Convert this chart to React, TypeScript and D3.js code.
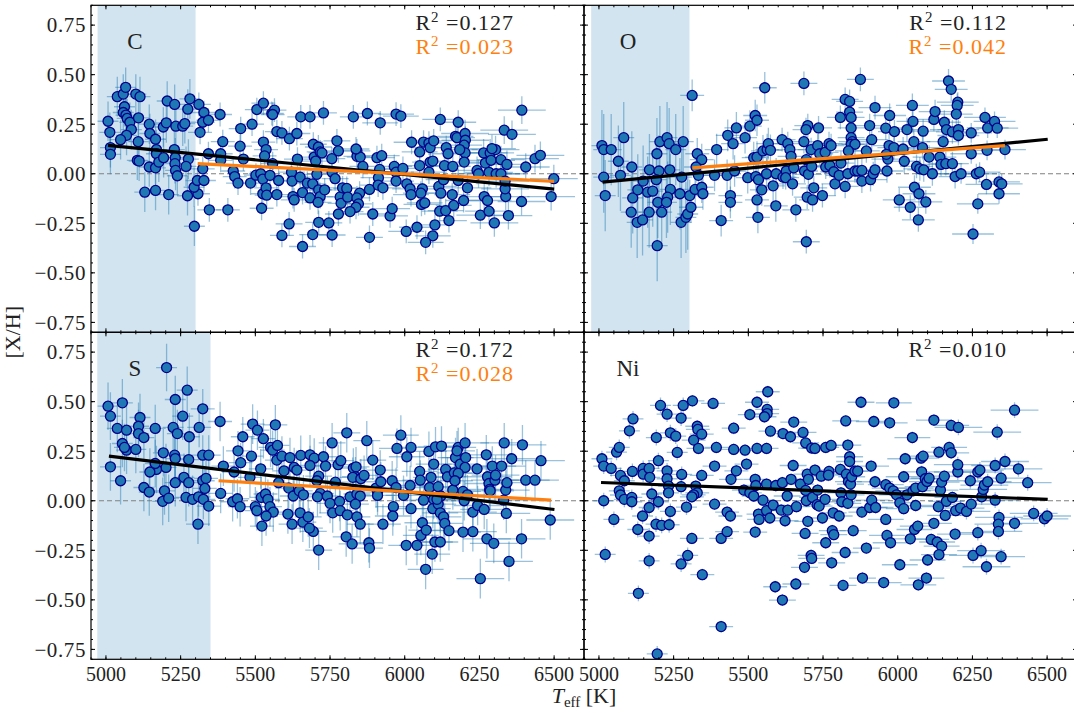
import React from "react";
import * as d3 from "d3";

// ---------------- DATA ----------------
// [Teff (K), [X/H]]
const carbonPoints: [number, number][] = [
  [5007,0.265],[5013,0.209],[5015,0.132],[5015,0.098],[5038,0.389],[5058,0.402],[5066,0.436],[5062,0.338],[5058,0.309],[5067,0.296],
  [5071,0.279],[5080,0.26],[5085,0.223],[5069,0.194],[5049,0.172],[5109,0.282],[5100,0.402],[5114,0.389],[5108,0.162],[5105,0.068],
  [5111,0.064],[5145,0.25],[5147,0.203],[5166,0.174],[5169,0.122],[5169,0.101],[5145,0.034],[5166,0.03],[5177,0.059],[5193,0.081],
  [5192,0.236],[5202,0.257],[5205,0.367],[5230,0.35],[5234,0.24],[5229,0.122],[5232,0.081],[5257,0.24],[5264,0.253],[5274,0.326],
  [5281,0.378],[5276,0.074],[5268,0.037],[5231,0.051],[5233,0.017],[5239,-0.01],[5130,-0.093],[5166,-0.084],[5210,-0.105],[5273,-0.111],
  [5308,-0.101],[5295,-0.068],[5296,-0.265],
  [5311,0.35],[5328,0.309],[5324,0.26],[5343,0.27],[5315,0.209],[5343,0.101],[5324,0.025],[5306,-0.034],[5328,-0.034],[5346,-0.182],
  [5382,0.299],[5391,0.162],[5384,0.101],[5384,0.068],[5408,-0.182],[5426,0.014],[5431,-0.014],[5442,-0.047],[5451,0.228],[5449,0.139],
  [5460,0.074],[5489,0.25],[5484,-0.047],[5505,0.324],[5527,0.356],[5502,-0.007],[5518,0],[5525,-0.027],[5527,0.16],[5536,0.122],
  [5531,0.09],[5525,-0.101],[5536,-0.071],[5538,-0.108],[5558,0.051],[5549,-0.008],[5521,-0.174],[5555,0.304],[5564,0.321],[5558,0.299],
  [5572,0.213],[5589,0.206],[5578,-0.034],[5572,-0.105],[5589,-0.311],[5614,0.177],[5639,0.203],[5652,0.287],[5683,0.287],[5641,0.074],
  [5621,0.008],[5623,-0.037],[5626,-0.115],[5630,-0.132],[5658,-0.367],[5613,-0.253],[5650,-0.017],[5658,-0.095],[5683,-0.122],[5674,-0.047],
  [5694,0.149],[5697,0.084],[5692,-0.051],[5711,0.135],[5717,0.11],[5702,0.064],[5728,0.307],[5723,0.105],[5706,-0.003],[5712,-0.081],
  [5717,-0.115],[5710,-0.144],[5712,-0.245],[5692,-0.307],[5732,-0.081],[5746,-0.248],[5757,-0.309],[5756,0.076],[5757,0.008],[5773,0.166],
  [5778,0.115],[5767,-0.025],[5784,-0.117],[5792,-0.071],[5778,-0.203],[5787,-0.149],[5806,-0.074],[5809,-0.118],[5828,0.287],[5840,0.115],
  [5840,0.088],[5851,0.084],[5837,0.125],[5860,0.037],[5849,-0.098],[5840,-0.122],[5845,-0.152],[5837,-0.169],[5817,-0.191],[5882,-0.079],
  [5875,0.304],[5882,-0.321],[5893,-0.203],[5907,0.081],[5918,0.257],[5923,0.091],[5916,0.022],[5912,-0.02],[5911,-0.057],[5927,-0.071],
  [5951,-0.213],[5958,-0.176],[5971,0.301],[5987,0.291],[5965,0.037],[5971,0.008],[5971,-0.037],[5994,0.027],[6007,-0.051],[6005,-0.291],
  [6023,0.159],[6018,-0.076],[6021,-0.105],[6050,0.11],[6050,0.041],[6063,0.16],[6081,0.155],[6085,0.132],[6081,0.008],[6059,-0.076],
  [6054,-0.098],[6056,-0.155],[6067,-0.147],[6041,-0.27],[6094,-0.313],[6070,-0.346],[6101,-0.258],[6097,0.166],[6085,0.059],[6094,0.064],
  [6119,0.274],[6139,0.132],[6145,0.101],[6133,0.041],[6161,0.037],[6114,-0.064],[6121,-0.098],[6130,-0.03],[6117,-0.189],[6137,-0.186],
  [6148,-0.236],[6159,-0.105],[6164,-0.16],[6179,0.26],[6170,0.189],[6175,0.182],[6202,0.203],[6203,0.169],[6199,0.144],[6202,0.105],
  [6184,0.122],[6199,0.059],[6197,-0.135],[6210,-0.071],[6179,-0.034],[6242,0.017],[6247,0],[6264,0.105],[6270,0.054],[6286,0.105],
  [6282,0.007],[6289,0.068],[6304,0.122],[6306,0],[6292,0.127],[6322,0.071],[6266,-0.115],[6277,-0.135],[6253,-0.209],[6282,-0.189],
  [6300,-0.248],[6347,-0.211],[6338,-0.115],[6336,-0.076],[6322,0],[6336,-0.037],[6342,0.047],[6333,0.22],[6359,0.199],[6392,0.321],
  [6405,0.034],[6391,-0.14],[6436,0.076],[6454,0.093],[6499,-0.025],[6490,-0.115],
];

const oxygenPoints: [number, number][] = [
  [5010,0.142],[5016,0.122],[5041,0.122],[5016,-0.017],[5021,-0.11],[5065,0.063],[5072,-0.008],[5083,0.182],[5110,0.034],[5113,-0.122],
  [5108,-0.194],[5128,-0.245],[5146,-0.233],[5130,-0.081],[5148,-0.037],[5163,-0.093],[5169,0.02],[5180,-0.088],[5168,-0.194],[5210,-0.194],
  [5197,-0.144],[5194,0.101],[5204,0.162],[5201,0.014],[5192,-0.03],[5195,-0.363],[5228,0.182],[5235,0.152],[5237,0.02],[5239,-0.079],
  [5230,-0.118],[5226,-0.144],[5257,0.122],[5282,0.162],[5277,-0.017],[5271,-0.101],[5275,-0.245],[5291,-0.22],[5297,-0.203],[5308,-0.169],
  [5304,-0.11],
  [5312,0.395],[5329,0.101],[5344,0.071],[5325,0.034],[5333,-0.008],[5322,-0.079],[5344,-0.068],[5348,-0.101],[5387,-0.008],[5394,0.122],
  [5409,-0.236],[5429,-0.008],[5431,0.194],[5449,0.152],[5460,0.231],[5440,-0.11],[5440,-0.144],[5454,0.014],[5489,0.182],[5498,-0.02],
  [5505,0.24],[5523,0.294],[5529,0.27],[5518,0.081],[5529,0.084],[5525,-0.014],[5529,-0.132],[5534,-0.03],[5532,-0.22],[5545,-0.081],
  [5555,0.434],[5549,0.115],[5563,0.122],[5567,0.152],[5574,0.118],[5561,0],[5583,-0.061],[5592,-0.162],[5593,0],[5613,0.172],
  [5616,-0.017],[5627,0.014],[5632,0.152],[5639,0.122],[5643,0.088],[5625,-0.02],[5648,-0.051],[5652,0.03],[5659,-0.182],[5686,0.456],
  [5699,0.243],[5693,0.223],[5686,0.162],[5694,0.071],[5688,0.014],[5701,-0.003],[5710,0.122],[5712,0.037],[5697,-0.118],[5719,-0.071],
  [5715,-0.132],[5694,-0.343],[5735,0.231],[5732,0.142],[5739,0.101],[5748,-0.11],[5757,0.108],[5770,0.152],[5777,0.142],[5759,0.034],
  [5773,0.041],[5786,0.01],[5790,-0.051],[5810,0.054],[5804,-0.008],[5824,-0.064],[5833,0],[5808,0.284],[5824,0.375],[5839,0.365],
  [5839,0.311],[5844,0.284],[5844,0.231],[5844,0.182],[5848,0.162],[5844,0.149],[5857,0.149],[5835,0.115],[5857,0.014],[5866,0.014],
  [5880,-0.037],[5880,0.017],[5875,0.476],[5895,0.115],[5906,0.243],[5913,0.172],[5909,-0.03],[5918,0],[5924,0.02],[5924,0.334],
  [5960,0.23],[5973,0.294],[5989,0.213],[5971,0.142],[5967,0.074],[5964,0.014],[5962,0.098],[5987,0.132],[6005,-0.132],[6018,0.125],
  [6022,0.063],[6031,0.223],[6049,0.345],[6051,0.264],[6054,0.162],[6042,-0.169],[6056,-0.068],[6063,0.037],[6074,0.025],[6069,-0.233],
  [6071,-0.101],[6085,0.215],[6083,0.132],[6087,0.02],[6094,-0.142],[6121,0.274],[6125,0.314],[6105,0.084],[6116,0],[6141,0.084],
  [6152,0.162],[6156,0.26],[6163,0.223],[6145,0.047],[6161,0.051],[6170,0.468],[6179,0.426],[6201,0.361],[6199,0.345],[6196,0.301],
  [6183,0.211],[6203,0.223],[6203,0.193],[6183,0.051],[6192,-0.014],[6212,0],[6246,0.206],[6246,0.101],[6263,0],[6274,0.008],
  [6268,-0.152],[6252,-0.304],[6292,0.284],[6301,0.231],[6297,-0.054],[6299,0.118],[6324,0.264],[6333,0.23],[6339,-0.041],[6348,-0.051],
  [6339,-0.101],[6359,0.122],
];

const sulfurPoints: [number, number][] = [
  [5007,0.477],[5015,0.427],[5055,0.494],[5038,0.365],[5069,0.356],[5055,0.289],[5069,0.255],[5062,0.269],[5100,0.259],[5015,0.171],
  [5049,0.101],[5114,0.42],[5109,0.376],[5109,0.339],[5127,0.319],[5165,0.365],[5203,0.672],[5232,0.511],[5272,0.558],[5257,0.427],
  [5225,0.37],[5239,0.339],[5279,0.323],[5312,0.37],[5324,0.464],[5192,0.242],[5230,0.23],[5232,0.213],[5277,0.208],[5201,0.168],
  [5169,0.158],[5165,0.188],[5147,0.145],[5127,0.067],[5145,0.044],[5196,0.05],[5190,-0.003],[5210,0.013],[5232,0.091],[5261,0.118],
  [5277,0.091],[5268,0.017],[5290,0.007],[5310,0.02],[5326,0.007],[5344,-0.027],[5324,0.101],[5331,0.062],[5335,0.113],[5324,0.23],
  [5344,0.23],[5308,-0.118],
  [5382,0.4],[5393,0.175],[5384,0.037],[5429,0.145],[5442,0.252],[5451,0.192],[5458,0.323],[5424,-0.005],[5440,0.01],[5449,-0.03],
  [5491,0.387],[5507,0.356],[5487,0.225],[5482,0.118],[5518,0.161],[5527,0.313],[5500,-0.03],[5505,-0.05],[5522,-0.128],[5520,0.017],
  [5534,0.034],[5542,0.007],[5549,-0.03],[5560,-0.057],[5536,-0.077],[5551,0.269],[5558,0.255],[5574,0.279],[5567,0.383],[5572,0.205],
  [5589,0.225],[5596,0.151],[5616,0.218],[5578,0.091],[5612,0.064],[5630,0.168],[5639,0.155],[5627,0.024],[5647,0.05],[5661,0.03],
  [5609,-0.067],[5623,-0.118],[5650,-0.061],[5659,-0.108],[5677,-0.081],[5694,-0.155],[5681,-0.138],[5712,-0.249],[5652,0.229],[5683,0.232],
  [5697,0.215],[5683,0.178],[5712,0.124],[5706,0.101],[5728,0.222],[5735,0.175],[5717,0.037],[5708,0.02],[5741,0.024],[5750,-0.013],
  [5757,0.292],[5759,-0.061],[5768,0.094],[5777,0.182],[5786,0.202],[5782,-0.003],[5784,-0.05],[5806,0.343],[5808,-0.071],[5804,-0.182],
  [5824,-0.218],[5817,0.02],[5828,0.165],[5837,0.171],[5835,0.121],[5840,0.034],[5851,0.024],[5835,-0.017],[5840,-0.081],[5851,-0.118],
  [5826,0.118],[5853,0.111],[5864,0.128],[5873,0.303],[5893,0.205],[5904,0.064],[5909,0.044],[5920,0.096],[5918,0.155],[5909,0.027],
  [5927,-0.118],[5880,-0.212],[5882,-0.239],[5958,0.101],[5962,-0.03],[5960,-0.077],[5971,0.067],[5974,0.264],[5987,0.331],[5996,0.027],
  [6007,0.222],[6021,0.269],[6018,0.077],[6021,-0.04],[6005,-0.225],[6041,-0.225],[6050,0.148],[6052,0.104],[6081,0.249],[6083,0.067],
  [6063,0.003],[6059,-0.111],[6054,-0.175],[6072,-0.148],[6097,0.185],[6103,0.272],[6123,0.276],[6088,0.118],[6097,0.007],[6094,-0.04],
  [6112,0.071],[6121,0.024],[6112,-0.017],[6119,-0.061],[6130,-0.081],[6134,-0.114],[6148,-0.151],[6137,0.158],[6143,0.121],[6108,0.007],
  [6101,-0.208],[6119,-0.208],[6092,-0.269],[6070,-0.346],[6161,0.054],[6166,0.141],[6170,0.218],[6179,0.269],[6175,0.252],[6186,0.185],
  [6202,0.292],[6204,0.218],[6202,0.168],[6179,0.138],[6168,0.101],[6195,0.047],[6199,0],[6210,0.03],[6228,-0.057],[6242,0.161],
  [6244,-0.024],[6228,-0.156],[6195,-0.158],[6253,-0.393],[6273,0.232],[6293,0.175],[6277,0.121],[6282,0.087],[6284,0.057],[6302,0.104],
  [6304,0.129],[6286,0.05],[6266,-0.044],[6275,-0.192],[6298,-0.215],[6324,0.175],[6338,0.054],[6342,0.091],[6340,-0.064],[6331,0.003],
  [6349,-0.306],[6358,0.212],[6333,0.292],[6394,0.282],[6405,0.104],[6436,0.104],[6456,0.202],[6391,-0.192],[6487,-0.097],
];

const nickelPoints: [number, number][] = [
  [5010,0.212],[5016,0.175],[5041,0.163],[5016,0],[5021,-0.271],[5050,-0.094],[5059,0.245],[5068,0.269],[5072,0.128],[5085,0.101],
  [5068,0.05],[5072,0.029],[5085,0.007],[5110,0.017],[5110,-0.005],[5112,0.148],[5102,0.353],[5114,0.413],[5130,-0.145],[5132,-0.467],
  [5146,-0.077],[5148,0.163],[5148,0.134],[5168,0.163],[5170,0.118],[5168,-0.034],[5168,-0.178],[5168,-0.303],[5177,0.034],[5192,0.319],
  [5199,0.202],[5199,-0.005],[5191,-0.118],[5210,-0.124],[5206,0.481],[5228,0.437],[5228,0.151],[5228,0.111],[5233,0.074],[5233,0.04],
  [5235,-0.121],[5239,-0.054],[5239,0.343],[5257,0.326],[5262,0.244],[5275,0.417],[5282,0.481],[5277,0.133],[5275,0.071],[5293,-0.032],
  [5275,-0.319],[5297,-0.276],[5311,-0.19],[5313,0.504],[5317,0.306],[5329,0.376],[5331,0.36],[5333,0.264],[5344,0.336],[5344,0.128],
  [5324,0.074],[5329,0.04],[5317,0.03],[5311,0.02],[5346,-0.373],[5382,0.491],[5393,0.269],[5387,0.175],[5387,-0.017],[5409,-0.635],
  [5409,-0.19],[5429,-0.057],[5429,-0.156],[5440,-0.077],[5442,0.108],[5451,0.259],[5451,0.366],[5460,0.151],[5489,0.255],[5494,0.185],
  [5485,0.054],[5505,0.04],[5518,0.024],[5505,0.435],[5529,0.497],[5529,0.264],[5523,0.108],[5525,0.077],[5534,-0.067],[5536,-0.094],
  [5523,-0.158],[5561,0.264],[5563,0.461],[5563,0.44],[5554,0.424],[5565,0.55],[5574,0.351],[5549,0.003],[5561,0.084],[5561,-0.05],
  [5572,-0.087],[5583,-0.022],[5592,0.077],[5590,-0.434],[5616,0.339],[5614,0.091],[5610,-0.047],[5623,-0.101],[5614,-0.501],[5632,-0.047],
  [5641,0.323],[5630,0.024],[5643,0.108],[5650,0.178],[5652,0.397],[5661,-0.03],[5659,-0.42],[5674,0.084],[5683,0.345],[5690,-0.165],
  [5692,0.292],[5688,-0.336],[5697,0.134],[5692,0.052],[5694,0],[5699,-0.104],[5701,0.108],[5710,-0.276],[5712,-0.291],[5712,0.266],
  [5715,0.017],[5723,0.155],[5723,0.264],[5730,-0.02],[5737,-0.027],[5732,0.054],[5744,0.124],[5748,-0.087],[5757,0.007],[5759,0.269],
  [5759,-0.212],[5777,0.279],[5770,0.148],[5768,0.129],[5784,-0.061],[5781,-0.151],[5786,-0.171],[5779,-0.313],[5804,-0.077],[5817,-0.427],
  [5824,-0.261],[5808,0.158],[5810,0.04],[5813,-0.005],[5826,0.403],[5833,0.281],[5839,0.222],[5839,0.198],[5828,0.134],[5835,0.097],
  [5833,-0.013],[5842,0.084],[5844,0.03],[5846,0.121],[5851,-0.151],[5857,0.15],[5866,0.15],[5877,0.497],[5880,-0.057],[5882,-0.39],
  [5895,-0.239],[5906,-0.034],[5911,0.175],[5913,0.003],[5920,0.4],[5924,0.096],[5926,-0.034],[5953,-0.413],[5960,0.081],[5960,-0.094],
  [5964,-0.175],[5973,0.064],[5973,0.393],[5976,-0.212],[5985,0.05],[5987,0.494],[5996,0.03],[6007,-0.01],[6007,-0.323],[6020,0.121],
  [6020,-0.04],[6025,0.212],[6031,0.03],[6042,-0.192],[6049,0.319],[6051,0.05],[6060,0.064],[6060,-0.024],[6056,-0.145],[6067,-0.128],
  [6069,-0.424],[6078,0.215],[6085,0.225],[6080,0.146],[6083,0.071],[6092,0.111],[6098,0.097],[6096,-0.39],[6100,-0.299],[6105,0.114],
  [6112,-0.195],[6121,-0.114],[6121,0.407],[6132,-0.208],[6138,0.245],[6143,0.054],[6136,-0.03],[6147,-0.229],[6138,-0.272],[6147,0.094],
  [6159,-0.074],[6163,-0.003],[6156,0.124],[6172,0.269],[6179,0.242],[6179,0.38],[6203,0.37],[6194,-0.05],[6192,-0.168],[6183,0.017],
  [6201,0.145],[6201,0.182],[6210,-0.037],[6230,-0.054],[6243,0.101],[6246,-0.017],[6252,-0.276],[6268,-0.161],[6268,0.145],[6275,0.155],
  [6279,-0.252],[6281,0.02],[6286,0.057],[6290,0.079],[6301,0.096],[6297,-0.333],[6326,0.178],[6326,0.003],[6333,0.346],[6339,-0.084],
  [6337,-0.118],[6337,-0.155],[6346,-0.282],[6346,0.114],[6359,0.198],[6391,0.457],[6391,-0.114],[6404,0.161],[6435,0.091],[6455,-0.064],
  [6491,-0.091],[6500,-0.077],[5195,-0.773],
];

// Error-bar sizes by Teff bin (bin edges below)
const errBinEdges = [5300, 5600, 5900, 6200];
const carbonTeffErr = [35, 40, 45, 60, 80];
const carbonAbundErr = [0.1, 0.06, 0.06, 0.06, 0.07];
const oxygenTeffErr = [35, 40, 45, 55, 70];
const oxygenAbundErr = [0.18, 0.08, 0.06, 0.06, 0.05];
const sulfurTeffErr = [35, 40, 45, 60, 80];
const sulfurAbundErr = [0.12, 0.1, 0.1, 0.1, 0.1];
const nickelTeffErr = [35, 40, 45, 60, 80];
const nickelAbundErr = [0.04, 0.03, 0.03, 0.03, 0.04];

// Linear fits: [Teff start, Teff end], [value start, value end]
const carbonFitAll = { teff: [5007, 6500], val: [0.143, -0.078] };
const carbonFitHot = { teff: [5307, 6500], val: [0.051, -0.038] };
const oxygenFitAll = { teff: [5012, 6502], val: [-0.042, 0.174] };
const oxygenFitHot = { teff: [5313, 6359], val: [0.03, 0.142] };
const sulfurFitAll = { teff: [5010, 6501], val: [0.225, -0.044] };
const sulfurFitHot = { teff: [5377, 6490], val: [0.101, 0.003] };
const nickelFitAll = { teff: [5007, 6502], val: [0.092, 0.007] };

// Shaded cool-star ranges
const carbonShade = [4972, 5300];
const oxygenShade = [4974, 5303];
const sulfurShade = [4971, 5350];

const r2All = ["0.127", "0.112", "0.172", "0.010"];
const r2Hot = ["0.023", "0.042", "0.028", null];
const elementNames = ["C", "O", "S", "Ni"];

const xDomain = [4950, 6600];
const yDomain = [-0.8, 0.85];
const xMajorTicks = [5000, 5250, 5500, 5750, 6000, 6250, 6500];
const yMajorTicks = [-0.75, -0.5, -0.25, 0, 0.25, 0.5, 0.75];

// ---------------- LAYOUT ----------------
const W = 1074;
const H = 713;
const PW = 493;
const PH = 327;
const LEFT = 91;
const TOP = 5.3;
const FONT = "'Liberation Serif', 'Times New Roman', serif";
const ORANGE = "#ff7f0e";
const TICK_FS = 21;

type Fit = { teff: number[]; val: number[] };

interface PanelProps {
  id: number;
  col: number;
  row: number;
  points: [number, number][];
  teffErr: number[];
  abundErr: number[];
  shade: number[] | null;
  fitAll: Fit;
  fitHot: Fit | null;
}

function fmtY(v: number) {
  const s = Math.abs(v).toFixed(2);
  return v < 0 ? "\u2212" + s : s;
}

function Panel({ id, col, row, points, teffErr, abundErr, shade, fitAll, fitHot }: PanelProps) {
  const x0 = LEFT + col * PW;
  const y0 = TOP + row * PH;
  const x = d3.scaleLinear().domain(xDomain).range([x0, x0 + PW]);
  const y = d3.scaleLinear().domain(yDomain).range([y0 + PH, y0]);
  const line = d3
    .line<[number, number]>()
    .x((d) => x(d[0]))
    .y((d) => y(d[1]));
  const fitPts = (f: Fit): [number, number][] => [
    [f.teff[0], f.val[0]],
    [f.teff[1], f.val[1]],
  ];
  const clipId = `clip-${id}`;
  const xMinor = d3.range(4950, 6601, 50);
  const yMinor = d3.range(-80, 86, 5).map((v) => v / 100);
  const MAJ = 4;
  const MIN = 2;

  const errIdx = (t: number) => d3.bisectRight(errBinEdges, t);

  return (
    <g>
      <defs>
        <clipPath id={clipId}>
          <rect x={x0} y={y0} width={PW} height={PH} />
        </clipPath>
      </defs>
      <g clipPath={`url(#${clipId})`}>
        {shade && (
          <rect
            x={x(shade[0])}
            y={y0}
            width={x(shade[1]) - x(shade[0])}
            height={PH}
            fill="#1f77b4"
            fillOpacity={0.2}
          />
        )}
        <line
          x1={x0}
          x2={x0 + PW}
          y1={y(0)}
          y2={y(0)}
          stroke="#808080"
          strokeWidth={1.2}
          strokeDasharray="5,3"
        />
        <g stroke="#1f77b4" strokeOpacity={0.45} strokeWidth={1.3}>
          {points.map((p, i) => {
            const k = errIdx(p[0]);
            const ex = teffErr[k];
            const ey = abundErr[k];
            return (
              <g key={i}>
                <line x1={x(p[0] - ex)} x2={x(p[0] + ex)} y1={y(p[1])} y2={y(p[1])} />
                <line x1={x(p[0])} x2={x(p[0])} y1={y(p[1] - ey)} y2={y(p[1] + ey)} />
              </g>
            );
          })}
        </g>
        <g fill="#1f77b4" stroke="#00008b" strokeWidth={1.3}>
          {points.map((p, i) => (
            <circle key={i} cx={x(p[0])} cy={y(p[1])} r={5} />
          ))}
        </g>
        <path d={line(fitPts(fitAll)) || ""} stroke="#000" strokeWidth={3.2} fill="none" />
        {fitHot && (
          <path d={line(fitPts(fitHot)) || ""} stroke={ORANGE} strokeWidth={3.2} fill="none" />
        )}
      </g>
      {/* frame */}
      <rect x={x0} y={y0} width={PW} height={PH} fill="none" stroke="#000" strokeWidth={1.2} />
      {/* ticks */}
      <g stroke="#000" strokeWidth={1}>
        {xMinor.map((t) => (
          <g key={"xm" + t}>
            <line x1={x(t)} x2={x(t)} y1={y0 + PH} y2={y0 + PH - MIN} />
            <line x1={x(t)} x2={x(t)} y1={y0} y2={y0 + MIN} />
          </g>
        ))}
        {xMajorTicks.map((t) => (
          <g key={"xM" + t}>
            <line x1={x(t)} x2={x(t)} y1={y0 + PH} y2={y0 + PH - MAJ} />
            <line x1={x(t)} x2={x(t)} y1={y0} y2={y0 + MAJ} />
          </g>
        ))}
        {yMinor.map((t) => (
          <g key={"ym" + t}>
            <line x1={x0} x2={x0 + MIN} y1={y(t)} y2={y(t)} />
            <line x1={x0 + PW} x2={x0 + PW - MIN} y1={y(t)} y2={y(t)} />
          </g>
        ))}
        {yMajorTicks.map((t) => (
          <g key={"yM" + t}>
            <line x1={x0} x2={x0 + MAJ} y1={y(t)} y2={y(t)} />
            <line x1={x0 + PW} x2={x0 + PW - MAJ} y1={y(t)} y2={y(t)} />
          </g>
        ))}
      </g>
      {/* tick labels */}
      <g fontFamily={FONT} fontSize={TICK_FS} fill="#222">
        {col === 0 &&
          yMajorTicks.map((t) => (
            <text key={"yl" + t} x={x0 - 5} y={y(t)} dy="0.35em" textAnchor="end" letterSpacing={0.6}>
              {fmtY(t)}
            </text>
          ))}
        {row === 1 &&
          xMajorTicks.map((t) => (
            <text key={"xl" + t} x={x(t)} y={y0 + PH + 22} textAnchor="middle" fontSize={20}>
              {t}
            </text>
          ))}
      </g>
      {/* element label */}
      <text x={x0 + 44} y={y0 + 44} fontFamily={FONT} fontSize={23} fill="#222" textAnchor="middle">
        {elementNames[id]}
      </text>
      {/* R^2 labels */}
      <g fontFamily={FONT} fontSize={22} letterSpacing={1} textAnchor="end">
        <text x={x0 + 423} y={y0 + 25} fill="#222">
          R<tspan fontSize={15} dy={-8}>2</tspan>
          <tspan dy={8}>{" =" + r2All[id]}</tspan>
        </text>
        {r2Hot[id] && (
          <text x={x0 + 423} y={y0 + 49} fill={ORANGE}>
            R<tspan fontSize={15} dy={-8}>2</tspan>
            <tspan dy={8}>{" =" + r2Hot[id]}</tspan>
          </text>
        )}
      </g>
    </g>
  );
}

export default function App() {
  return (
    <svg
      width={W}
      height={H}
      viewBox={`0 0 ${W} ${H}`}
      style={{ position: "absolute", left: 0, top: 0, background: "#fff" }}
    >
      <rect x={0} y={0} width={W} height={H} fill="#fff" />
      <Panel id={0} col={0} row={0} points={carbonPoints} teffErr={carbonTeffErr} abundErr={carbonAbundErr} shade={carbonShade} fitAll={carbonFitAll} fitHot={carbonFitHot} />
      <Panel id={1} col={1} row={0} points={oxygenPoints} teffErr={oxygenTeffErr} abundErr={oxygenAbundErr} shade={oxygenShade} fitAll={oxygenFitAll} fitHot={oxygenFitHot} />
      <Panel id={2} col={0} row={1} points={sulfurPoints} teffErr={sulfurTeffErr} abundErr={sulfurAbundErr} shade={sulfurShade} fitAll={sulfurFitAll} fitHot={sulfurFitHot} />
      <Panel id={3} col={1} row={1} points={nickelPoints} teffErr={nickelTeffErr} abundErr={nickelAbundErr} shade={null} fitAll={nickelFitAll} fitHot={null} />
      <text
        transform={`translate(20, ${TOP + PH}) rotate(-90)`}
        textAnchor="middle"
        fontFamily={FONT}
        fontSize={22}
        fill="#222"
      >
        [X/H]
      </text>
      <text x={LEFT + PW} y={703} textAnchor="middle" fontFamily={FONT} fontSize={22} fill="#222">
        <tspan fontStyle="italic">T</tspan>
        <tspan fontSize={15} dy={4}>eff</tspan>
        <tspan dy={-4}> [K]</tspan>
      </text>
    </svg>
  );
}
